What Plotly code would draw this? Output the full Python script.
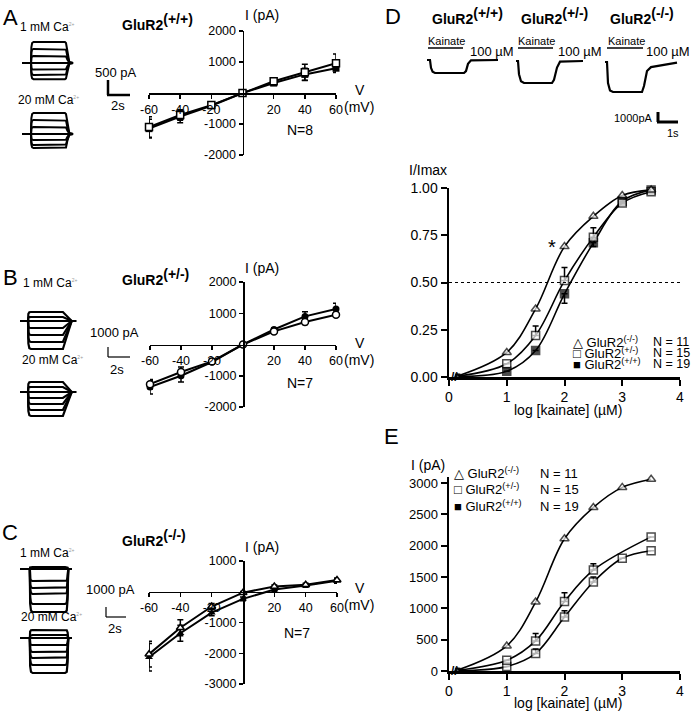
import plotly.graph_objects as go

W, H = 691, 719
FONT = "Liberation Sans, Arial, Helvetica, sans-serif"

# ---------------- data ----------------
V_MV = [-60, -40, -20, 0, 20, 40, 60]
IV_XTICKS = [-60, -40, -20, 20, 40, 60]

# Panel A  GluR2(+/+)  (1 mM Ca = open, 20 mM Ca = filled)
A_I_1CA = [-1100, -710, -390, 0, 380, 670, 960]
A_E_1CA = [330, 170, 60, 0, 60, 260, 300]
A_I_20CA = [-1150, -760, -410, 0, 320, 600, 800]
A_E_20CA = [300, 200, 60, 0, 60, 200, 130]
A_YTICKS = [-2000, -1000, 1000, 2000]

# Panel B  GluR2(+/-)
B_I_1CA = [-1270, -880, -540, 0, 420, 720, 950]
B_E_1CA = [150, 160, 50, 0, 50, 80, 60]
B_I_20CA = [-1360, -1000, -560, 0, 480, 900, 1140]
B_E_20CA = [220, 200, 60, 0, 60, 150, 180]
B_YTICKS = [-2000, -1000, 1000, 2000]

# Panel C  GluR2(-/-)
C_I_1CA = [-2030, -1170, -480, -30, 170, 230, 380]
C_E_1CA = [420, 260, 100, 40, 50, 50, 60]
C_I_20CA = [-2130, -1350, -680, -230, 70, 200, 360]
C_E_20CA = [450, 260, 100, 60, 50, 50, 80]
C_YTICKS = [-3000, -2000, -1000, 1000]

# Panels D / E  (log [kainate] in uM)
LOG_KA = [0.15, 1.0, 1.5, 2.0, 2.5, 3.0, 3.5]
D_KO = [0.005, 0.13, 0.36, 0.69, 0.85, 0.96, 0.99]
D_HET = [0.004, 0.07, 0.22, 0.51, 0.74, 0.92, 0.98]
D_HET_ERR = [0, 0, 0.05, 0.07, 0.05, 0, 0]
D_WT = [0.003, 0.03, 0.14, 0.44, 0.71, 0.93, 0.99]
D_WT_ERR = [0, 0, 0, 0.05, 0.02, 0, 0]
HALF_MAX = 0.5
D_YTICKS = [0, 0.25, 0.5, 0.75, 1.0]

E_KO = [15, 400, 1100, 2110, 2610, 2930, 3060]
E_HET = [10, 170, 480, 1110, 1610, None, 2140]
E_HET_ERR = [0, 0, 120, 140, 100, 0, 0]
E_WT = [5, 70, 280, 860, 1420, 1800, 1920]
E_WT_ERR = [0, 0, 70, 100, 80, 0, 0]
E_YTICKS = [0, 500, 1000, 1500, 2000, 2500, 3000]
KA_XTICKS = [0, 1, 2, 3, 4]

# Raw current families (pA) elicited by voltage steps
A1_LEVELS = [700, 470, 230, 0, -220, -400, -540]
A2_LEVELS = [700, 470, 230, 0, -200, -370, -470]
B1_LEVELS = [900, 400, 0, -700, -1400, -2100, -2800]
B2_LEVELS = [1000, 500, 0, -600, -1200, -1800, -2400]
C1_LEVELS = [200, 0, -1200, -1900, -2500, -3500, -4300]
C2_LEVELS = [800, 300, 0, -700, -1400, -2000, -2700, -3500]
# time course (s) and relative amplitude of each step response
STEP_A_T = [0, 0.82, 0.85, 0.92, 1.05, 3.9, 4.0, 4.12, 4.3, 4.64]
STEP_A_F = [0, 0, 0.75, 0.95, 1, 1, 0.95, 0.5, 0.05, 0]
STEP_B_T = [0, 0.73, 0.76, 0.85, 1.0, 3.9, 4.7, 5.1]
STEP_B_F = [0, 0, 0.8, 0.97, 1, 1, 0, 0]
STEP_C_T = [0, 0.9, 0.92, 1.0, 1.15, 4.1, 4.25, 4.33, 4.38, 4.7]
STEP_C_F = [0, 0, 0.8, 0.97, 1, 1, 0.97, 0.7, 0, 0]

# Kainate (100 uM) responses (pA)
KA_AMPS = [-1430, -2420, -3300]
KA_T = [
    [0, 0.15, 0.2, 0.28, 0.4, 1.85, 1.95, 2.05, 2.2, 3.55],
    [0, 0.1, 0.15, 0.25, 0.4, 1.8, 1.9, 2.05, 2.2, 3.35],
    [0, 0.1, 0.15, 0.25, 0.4, 1.85, 1.95, 2.1, 2.3, 3.0, 3.6],
]
KA_F = [
    [0, 0, 0.6, 0.9, 1, 1, 0.85, 0.3, 0.03, 0],
    [0, 0, 0.6, 0.92, 1, 1, 0.85, 0.3, 0.03, 0],
    [0, 0, 0.7, 0.95, 1, 1, 0.8, 0.3, 0.17, 0.08, 0.02],
]

# ---------------- helpers ----------------
def fx(px):
    return px / W


def fy(py):
    return 1 - py / H


fig = go.Figure()
layout = dict(
    width=W, height=H, margin=dict(l=0, r=0, t=0, b=0, pad=0, autoexpand=False),
    paper_bgcolor="white", plot_bgcolor="rgba(0,0,0,0)",
    showlegend=False, font=dict(family=FONT, color="black"),
)
count = [0]


def add_axes(x0, x1, y0, y1, xr, yr, xkw=None, ykw=None):
    count[0] += 1
    n = count[0]
    s = "" if n == 1 else str(n)
    xa = dict(domain=[fx(x0), fx(x1)], range=xr, anchor="y" + s, automargin=False,
              showgrid=False, zeroline=False, fixedrange=True)
    ya = dict(domain=[fy(y1), fy(y0)], range=yr, anchor="x" + s, automargin=False,
              showgrid=False, zeroline=False, fixedrange=True)
    if xkw is None:
        xa["visible"] = False
    else:
        xa.update(xkw)
    if ykw is None:
        ya["visible"] = False
    else:
        ya.update(ykw)
    layout["xaxis" + s] = xa
    layout["yaxis" + s] = ya
    return "x" + s, "y" + s


annotations = []
shapes = []


def ann(x, y, text, size=13, xanchor="center", yanchor="middle", color="black", family=FONT):
    annotations.append(dict(x=fx(x), y=fy(y), xref="paper", yref="paper", text=text,
                            showarrow=False, xanchor=xanchor, yanchor=yanchor,
                            font=dict(size=size, color=color, family=family)))


def hline(x0, x1, y, w=1.5):
    shapes.append(dict(type="line", xref="paper", yref="paper", x0=fx(x0), x1=fx(x1),
                       y0=fy(y), y1=fy(y), line=dict(color="black", width=w)))


def vline(x, y0, y1, w=1.5):
    shapes.append(dict(type="line", xref="paper", yref="paper", x0=fx(x), x1=fx(x),
                       y0=fy(y0), y1=fy(y1), line=dict(color="black", width=w)))


# ---------------- IV panels ----------------
def iv_panel(px0, px1, py0, py1, yr, yticks, i1, e1, i20, e20, sym):
    xr = [-60, 60]
    zero_y = fy(py1) + (0 - yr[0]) / (yr[1] - yr[0]) * (fy(py0) - fy(py1))
    zero_x = fx(px0) + (0 - xr[0]) / (xr[1] - xr[0]) * (fx(px1) - fx(px0))
    common = dict(showline=True, linecolor="black", linewidth=1.5, ticks="outside",
                  ticklen=4, tickwidth=1.5, tickcolor="black",
                  tickfont=dict(size=12.5, family=FONT, color="black"))
    xkw = dict(anchor="free", position=zero_y, tickvals=IV_XTICKS, ticktext=[str(v) for v in IV_XTICKS], **common)
    ykw = dict(anchor="free", position=zero_x, tickvals=yticks, ticktext=[str(v) for v in yticks], **common)
    xa, ya = add_axes(px0, px1, py0, py1, xr, yr, xkw, ykw)
    fig.add_trace(go.Scatter(x=V_MV, y=i20, xaxis=xa, yaxis=ya, mode="lines+markers",
                             line=dict(color="black", width=2),
                             marker=dict(symbol=sym, size=7, color="black"),
                             error_y=dict(type="data", array=e20, color="black", thickness=1.5, width=3),
                             cliponaxis=False))
    fig.add_trace(go.Scatter(x=V_MV, y=i1, xaxis=xa, yaxis=ya, mode="lines+markers",
                             line=dict(color="black", width=2),
                             marker=dict(symbol=sym, size=7, color="white", line=dict(color="black", width=1.5)),
                             error_y=dict(type="data", array=e1, color="black", thickness=1.5, width=3),
                             cliponaxis=False))


iv_panel(149, 336, 31, 155, [-2000, 2000], A_YTICKS, A_I_1CA, A_E_1CA, A_I_20CA, A_E_20CA, "square")
iv_panel(150, 336, 282, 407, [-2000, 2000], B_YTICKS, B_I_1CA, B_E_1CA, B_I_20CA, B_E_20CA, "circle")
iv_panel(149, 337, 561, 684, [-3000, 1000], C_YTICKS, C_I_1CA, C_E_1CA, C_I_20CA, C_E_20CA, "triangle-up")


# ---------------- raw current families ----------------
def family(px0, px1, py0, py1, base_py, pa_per_px, s_per_px, levels, tt, ff, lw=1.6):
    xr = [0, (px1 - px0) * s_per_px]
    yr = [-(py1 - base_py) * pa_per_px, (base_py - py0) * pa_per_px]
    xa, ya = add_axes(px0, px1, py0, py1, xr, yr)
    for lv in levels:
        fig.add_trace(go.Scatter(x=tt, y=[lv * f for f in ff], xaxis=xa, yaxis=ya, mode="lines",
                                 line=dict(color="black", width=lw), hoverinfo="skip"))


family(22, 75, 36, 86, 63, 500 / 15, 2 / 22, A1_LEVELS, STEP_A_T, STEP_A_F, 2.0)
family(22, 75, 106, 152, 134, 500 / 15, 2 / 22, A2_LEVELS, STEP_A_T, STEP_A_F, 2.0)
family(20, 77, 306, 356, 321, 100, 2 / 22, B1_LEVELS, STEP_B_T, STEP_B_F, 2.2)
family(20, 77, 376, 422, 392, 100, 2 / 22, B2_LEVELS, STEP_B_T, STEP_B_F, 2.2)
family(20, 73, 560, 620, 569, 100, 2 / 22, C1_LEVELS, STEP_C_T, STEP_C_F, 2.2)
family(20, 73, 624, 680, 638, 100, 2 / 22, C2_LEVELS, STEP_C_T, STEP_C_F, 2.2)

# kainate responses
for start, base, amp, tt, ff in zip([427, 516, 605], [60, 61, 62], KA_AMPS, KA_T, KA_F):
    family(start, start + 76, base - 12, base + 36, base, 110, 1 / 20, [amp], tt, ff, 2.2)

# ---------------- dose-response panels ----------------
dr_common = dict(showline=True, linecolor="black", linewidth=2.5, ticks="outside",
                 ticklen=6, tickwidth=2, tickcolor="black")


def dr_panel(py0, py1, yr, yticks, ytext, ko, het, het_err, wt, wt_err, tsize, minus=False):
    xkw = dict(tickvals=KA_XTICKS, ticktext=[str(v) for v in KA_XTICKS],
               tickfont=dict(size=14, family=FONT, color="black"), **dr_common)
    ykw = dict(tickvals=yticks, ticktext=ytext,
               tickfont=dict(size=tsize, family=FONT, color="black"), **dr_common)
    xa, ya = add_axes(449, 680, py0, py1, [0, 4], yr, xkw, ykw)
    sizes = [4, 8, 8, 8, 8, 8, 8]
    if minus:
        werr = dict(type="data", symmetric=False, array=[0] * 7, arrayminus=wt_err,
                    color="black", thickness=1.5, width=3)
    else:
        werr = dict(type="data", array=wt_err, symmetric=False, arrayminus=[0] * 7,
                    color="black", thickness=1.5, width=3)
    fig.add_trace(go.Scatter(x=LOG_KA, y=wt, xaxis=xa, yaxis=ya, mode="lines+markers",
                             line=dict(color="black", width=1.6, shape="spline"), connectgaps=True,
                             marker=dict(symbol="square", size=sizes,
                                         color="black" if minus else "white",
                                         line=dict(color="black", width=1.5)),
                             error_y=werr, cliponaxis=False))
    fig.add_trace(go.Scatter(x=LOG_KA, y=het, xaxis=xa, yaxis=ya, mode="lines+markers",
                             line=dict(color="black", width=1.6, shape="spline"), connectgaps=True,
                             marker=dict(symbol="square", size=sizes, color="white",
                                         line=dict(color="black", width=1.5)),
                             error_y=dict(type="data", symmetric=False, array=het_err,
                                          arrayminus=[0] * 7, color="black", thickness=1.5, width=3),
                             cliponaxis=False))
    fig.add_trace(go.Scatter(x=LOG_KA, y=ko, xaxis=xa, yaxis=ya, mode="lines+markers",
                             line=dict(color="black", width=1.6, shape="spline"),
                             marker=dict(symbol="triangle-up", size=sizes, color="white",
                                         line=dict(color="black", width=1.5)),
                             cliponaxis=False))
    return xa, ya


xa_d, ya_d = dr_panel(188, 377, [0, 1], D_YTICKS, ["%.2f" % v for v in D_YTICKS],
                      D_KO, D_HET, D_HET_ERR, D_WT, D_WT_ERR, 14, minus=True)
fig.add_trace(go.Scatter(x=[0, 4], y=[HALF_MAX, HALF_MAX], xaxis=xa_d, yaxis=ya_d, mode="lines",
                         line=dict(color="black", width=1, dash="dot")))
# E: 3000 sits at y=483, axis stretched a little above to show the top points
dr_panel(671 - (671 - 483) * 3100 / 3000, 671, [0, 3100], E_YTICKS, [str(v) for v in E_YTICKS],
         E_KO, E_HET, E_HET_ERR, E_WT, E_WT_ERR, 13, minus=False)

# ---------------- text ----------------
SUP = '<sup><span style="font-size:14px">%s</span></sup>'
# panel letters
ann(10, 18, "A", 22)
ann(10, 277, "B", 22)
ann(10, 532, "C", 22)
ann(393, 17, "D", 22)
ann(392, 436, "E", 22)

# IV titles
for y, g in [(22, "(+/+)"), (277, "(+/-)"), (538, "(-/-)")]:
    ann(120, y, "<b>GluR2</b>" + "<b>" + SUP % g + "</b>", 14, xanchor="left")
for y in [15, 268, 547]:
    ann(262, y, "I (pA)", 14)
for zy in [93, 346, 591]:
    ann(360, zy - 3, "V", 14)
    ann(359, zy + 14, "(mV)", 14)
ann(300, 130, "N=8", 14)
ann(300, 383, "N=7", 14)
ann(297, 633, "N=7", 14)

# Ca labels
CA = 'Ca<sup><span style="font-size:5px;color:#999">2+</span></sup>'
for x, y, t in [(47, 27, "1 mM "), (48, 100, "20 mM "), (50, 283, "1 mM "), (52, 360, "20 mM "),
                (47, 553, "1 mM "), (51, 617, "20 mM ")]:
    ann(x, y, t + CA, 12)

# scale bars
vline(108, 80, 95, 2.5); hline(107, 130, 95, 2.5)
ann(116, 72, "500 pA", 13); ann(118, 106, "2s", 13)
vline(108, 347, 357, 1.2); hline(108, 130, 357, 1.2)
ann(114, 332, "1000 pA", 13); ann(117, 369, "2s", 13)
vline(106, 607, 617, 1.2); hline(106, 126, 617, 1.2)
ann(110, 589, "1000 pA", 13); ann(115, 628, "2s", 13)
vline(658, 112, 122, 3); hline(657, 678, 122, 3)
ann(655, 118, "1000pA", 11, xanchor="right"); ann(673, 133, "1s", 11)

# D trace labels
for x0, x1, g, tx, kx in [(428, 463, "(+/+)", 430, 492), (518, 553, "(+/-)", 519, 580),
                          (607, 643, "(-/-)", 608, 668)]:
    ann(tx, 16, "<b>GluR2</b>" + "<b>" + SUP % g + "</b>", 14, xanchor="left")
    hline(x0, x1, 48, 1.5)
    ann((x0 + x1) / 2 + 1, 41, "Kainate", 11)
    ann(kx, 52, "100 µM", 13)

# dose-response labels
ann(428, 170, "I/Imax", 14)
ann(428, 465, "I (pA)", 14)
ann(568, 410, "log [kainate] (µM)", 14)
ann(568, 703, "log [kainate] (µM)", 14)
ann(552, 247, "*", 20)
for oy in [377, 671]:
    ann(454, oy, "<b>//</b>", 12)

LEG_FONT = "Liberation Sans, DejaVu Sans, sans-serif"
SUPL = "<sup>%s</sup>"
for (sym, g, n), dy in zip([("△", "(-/-)", "11"), ("□", "(+/-)", "15"), ("■", "(+/+)", "19")], [0, 1, 2]):
    ann(571, 342 + 11 * dy, sym + " GluR2" + SUPL % g, 13, xanchor="left", family=LEG_FONT)
    ann(651, 342 + 11 * dy, "N = " + n, 12.5, xanchor="left")
    ann(452, 473 + 16.5 * dy, sym + " GluR2" + SUPL % g, 13, xanchor="left", family=LEG_FONT)
    ann(538, 473 + 16.5 * dy, "N = " + n, 13, xanchor="left")

layout["annotations"] = annotations
layout["shapes"] = shapes
fig.update_layout(**layout)
fig.write_html(
    "out.html",
    config={"displayModeBar": False, "staticPlot": True},
    post_script="document.body.style.margin='0';document.body.style.padding='0';"
                "document.body.style.overflow='hidden';",
)
